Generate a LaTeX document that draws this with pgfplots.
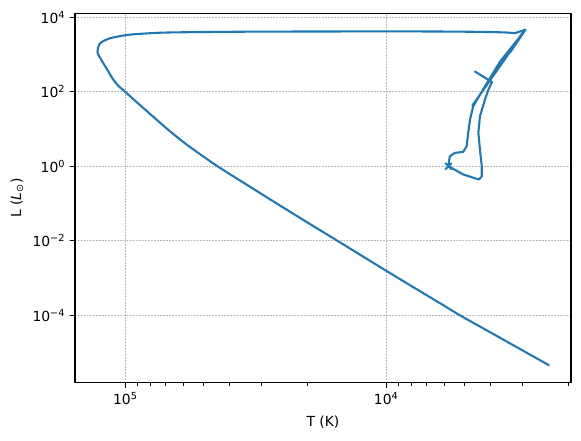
\documentclass[border=0pt]{standalone}
\usepackage{fontspec}
\setmainfont{DejaVu Sans}
\usepackage{pgfplots}
\pgfplotsset{compat=1.18}
\definecolor{mplblue}{HTML}{1F77B4}
\definecolor{gridgray}{HTML}{B0B0B0}
\begin{document}
\begin{tikzpicture}
\begin{axis}[
  name=ax,
  scale only axis, width=357.1pt, height=266.0pt,
  xmode=log, ymode=log, x dir=reverse,
  xmin=1959, xmax=156000, ymin=1.517e-6, ymax=12794,
  xtick={1e4,1e5}, xticklabels={10\textsuperscript{4},10\textsuperscript{5}},
  minor xtick={2000,3000,4000,5000,6000,7000,8000,9000,20000,30000,40000,50000,60000,70000,80000,90000},
  ytick={1e-4,1e-2,1,1e2,1e4},
  yticklabels={10\textsuperscript{−4},10\textsuperscript{−2},10\textsuperscript{0},10\textsuperscript{2},10\textsuperscript{4}},
  minor ytick={},
  grid=major,
  major grid style={gridgray, line width=0.6pt, dash pattern=on 0.8pt off 1.4pt},
  axis line style={black, line width=0.8pt},
  tick align=outside, tick pos=left,
  major tick length=3.5pt, minor tick length=2pt,
  every tick/.style={black, line width=0.8pt},
  minor tick style={black, line width=0.6pt},
  xlabel={T (K)}, ylabel={L (\textit{L}\textsubscript{⊙})},
  every axis x label/.style={at={(axis description cs:0.5,0)}, anchor=center, yshift=-28.3pt},
  every axis y label/.style={at={(axis description cs:0,0.5)}, anchor=center, rotate=90, yshift=41.8pt},
  line join=round, line cap=round,
]
% pre-main sequence, main sequence, red giant branch, AGB
\addplot[mplblue, line width=1.5pt] coordinates {
(4571,349.9) (3936,182.4) (4064,111.2) (4188,61.09) (4375,21.88) (4436,7.834)
(4375,2.799) (4305,1.0) (4305,0.5297) (4416,0.4406) (4508,0.4592) (5070,0.5998)
(5772,1.0) (5754,1.337) (5702,1.854) (5458,2.280) (5070,2.427) (4920,3.436)
(4853,7.834) (4775,17.78) (4645,40.46) (4266,112.2) (3664,645.7) (2944,4365)
(4677,42.66) (3631,537.0) (2985,3802) (3350,1148) (2965,4365) (3199,2042)
(2924,4677) (3214,3758)
};
% post-AGB and white dwarf cooling
\addplot[mplblue, line width=1.5pt, smooth, tension=0.5] coordinates {
(3214,3758) (3548,3936) (4467,4074) (7079,4169) (15849,4169) (31623,4121)
(50119,4027) (70795,3890) (86099,3631) (98855,3342) (114551,2729) (125026,1995)
(127938,1189) (126120,912.0) (122280,629.5) (118030,420.7) (114950,309.0)
(111940,226.5) (106660,146.9) (100231,100)
(89125,47.86) (76940,19.31) (70460,11.27) (64500,6.701) (59050,4.110)
(54080,2.616) (49500,1.696) (44410,1.0) (35481,0.3715) (28184,0.1349) (22387,0.04955)
(17783,0.01841) (15417,0.01) (12589,0.004169) (10000,0.001549)
(7943,5.821e-4) (6310,2.213e-4) (5236,1e-4) (3981,3.404e-5) (3162,1.377e-5)
(2382,4.519e-6)
};
\addplot[only marks, mark=x, mark size=3pt, mplblue, line width=1.5pt] coordinates {(5772,1.0)};
\end{axis}
\path[use as bounding box] ([xshift=-54pt,yshift=-41.3pt]ax.south west) rectangle ([xshift=7.2pt,yshift=9.6pt]ax.north east);
\end{tikzpicture}
\end{document}
